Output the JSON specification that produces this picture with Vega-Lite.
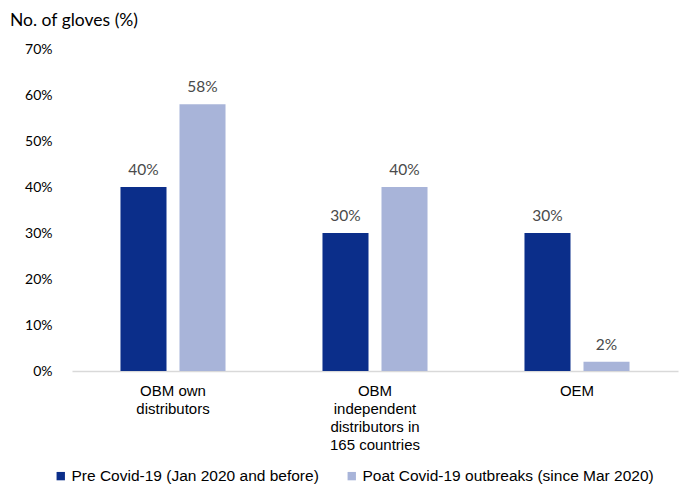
{
  "$schema": "https://vega.github.io/schema/vega-lite/v6.json",
  "width": 606,
  "height": 322,
  "autosize": {"type": "none"},
  "padding": {"left": 72, "top": 49, "right": 1, "bottom": 113},
  "background": "white",
  "config": {"view": {"stroke": null}},
  "title": {
    "text": "No. of gloves (%)",
    "anchor": "start",
    "frame": "group",
    "font": "Lato",
    "fontSize": 17.5,
    "fontWeight": "normal",
    "color": "#000000",
    "dx": -62,
    "offset": 0,
    "dy": -13
  },
  "data": {
    "values": [
      {"channel": "OBM own distributors", "period": "Pre Covid-19 (Jan 2020 and before)", "share": 40},
      {"channel": "OBM own distributors", "period": "Poat Covid-19 outbreaks (since Mar 2020)", "share": 58},
      {"channel": "OBM independent distributors in 165 countries", "period": "Pre Covid-19 (Jan 2020 and before)", "share": 30},
      {"channel": "OBM independent distributors in 165 countries", "period": "Poat Covid-19 outbreaks (since Mar 2020)", "share": 40},
      {"channel": "OEM", "period": "Pre Covid-19 (Jan 2020 and before)", "share": 30},
      {"channel": "OEM", "period": "Poat Covid-19 outbreaks (since Mar 2020)", "share": 2}
    ]
  },
  "encoding": {
    "x": {
      "field": "channel",
      "type": "nominal",
      "sort": null,
      "scale": {"paddingInner": 0.48, "paddingOuter": 0.24},
      "axis": {
        "title": null,
        "labelAngle": 0,
        "ticks": false,
        "domainColor": "#d9d9d9",
        "domainWidth": 1.5,
        "labelFont": "Liberation Sans",
        "labelFontSize": 15,
        "labelColor": "#000000",
        "labelPadding": 12,
        "labelLineHeight": 18.3,
        "labelLimit": 200,
        "labelExpr": "datum.label == 'OBM own distributors' ? ['OBM own', 'distributors'] : datum.label == 'OBM independent distributors in 165 countries' ? ['OBM', 'independent', 'distributors in', '165 countries'] : datum.label"
      }
    },
    "xOffset": {
      "field": "period",
      "type": "nominal",
      "sort": null,
      "scale": {"paddingInner": 0.22, "paddingOuter": 0}
    },
    "y": {
      "field": "share",
      "type": "quantitative",
      "scale": {"domain": [0, 70]},
      "axis": {
        "title": null,
        "values": [0, 10, 20, 30, 40, 50, 60, 70],
        "labelExpr": "datum.value + '%'",
        "grid": false,
        "domain": false,
        "ticks": false,
        "labelFont": "Lato",
        "labelFontSize": 14,
        "labelColor": "#000000",
        "labelPadding": 20
      }
    }
  },
  "layer": [
    {
      "mark": {"type": "bar"},
      "encoding": {
        "color": {
          "field": "period",
          "type": "nominal",
          "sort": null,
          "scale": {"range": ["#0b2e8a", "#a8b4d9"]},
          "legend": {
            "title": null,
            "orient": "none",
            "direction": "horizontal",
            "legendX": -19,
            "legendY": 419,
            "symbolType": "square",
            "symbolSize": 70,
            "symbolStrokeWidth": 0,
            "labelFont": "Liberation Sans",
            "labelFontSize": 15.5,
            "labelColor": "#000000",
            "labelOffset": 3,
            "labelLimit": 400,
            "columnPadding": 25
          }
        }
      }
    },
    {
      "mark": {
        "type": "text",
        "baseline": "bottom",
        "dy": -9,
        "font": "Lato",
        "fontSize": 15.5,
        "color": "#4a4a4a",
        "text": {"expr": "datum.share + '%'"}
      },
      "encoding": {
        "detail": {"field": "period"}
      }
    }
  ]
}
